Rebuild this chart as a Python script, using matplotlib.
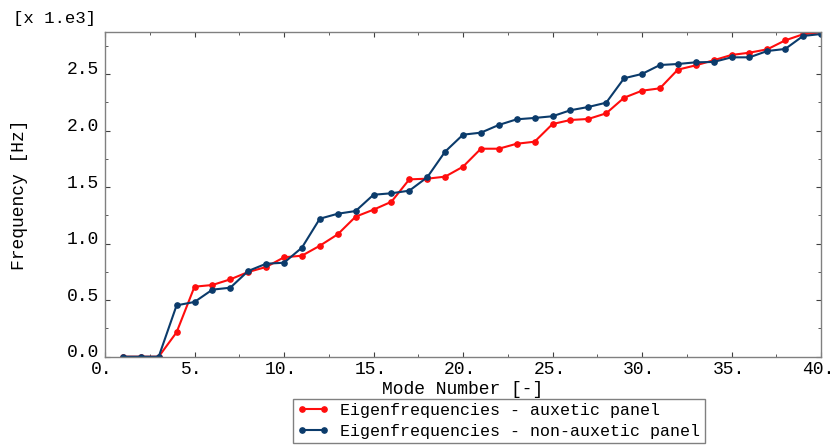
import matplotlib
matplotlib.use("Agg")
import matplotlib.pyplot as plt
import matplotlib.transforms as mtransforms
from matplotlib.ticker import MultipleLocator, FormatStrFormatter
import numpy as np

# mode numbers and eigenfrequencies (x 1e3 Hz)
modes = list(range(1, 41))
auxetic = [0.0, 0.0, 0.0, 0.216, 0.619, 0.634, 0.684, 0.749, 0.793, 0.879,
           0.893, 0.981, 1.082, 1.238, 1.300, 1.370, 1.568, 1.574, 1.592, 1.680,
           1.839, 1.839, 1.883, 1.901, 2.057, 2.093, 2.102, 2.152, 2.290, 2.352,
           2.373, 2.538, 2.576, 2.621, 2.668, 2.688, 2.718, 2.797, 2.851, 2.868]
non_auxetic = [0.0, 0.0, 0.0, 0.454, 0.484, 0.593, 0.610, 0.758, 0.822, 0.831,
               0.964, 1.220, 1.264, 1.288, 1.432, 1.445, 1.468, 1.586, 1.813, 1.963,
               1.981, 2.049, 2.099, 2.111, 2.126, 2.179, 2.208, 2.246, 2.462, 2.500,
               2.579, 2.588, 2.603, 2.606, 2.647, 2.647, 2.703, 2.721, 2.836, 2.853]

RED = "#ff0d0d"
BLUE = "#0b3b6b"
GRAY = "#808080"
FONT = "Liberation Mono"

plt.rcParams["font.family"] = FONT

fig = plt.figure(figsize=(8.34, 4.48), dpi=100)
ax = fig.add_axes([105 / 834, 1 - 356.7 / 448, 716 / 834, (356.7 - 32) / 448])

ax.plot(modes, auxetic, color=RED, linewidth=1.5, marker="o", markersize=3.8,
        label="Eigenfrequencies - auxetic panel")
ax.plot(modes, non_auxetic, color=BLUE, linewidth=1.5, marker="o", markersize=3.8,
        label="Eigenfrequencies - non-auxetic panel")

ax.set_xlim(0, 40)
ax.set_ylim(0, 2.871)
ax.xaxis.set_major_locator(MultipleLocator(5))
ax.xaxis.set_minor_locator(MultipleLocator(2.5))
ax.yaxis.set_major_locator(MultipleLocator(0.5))
ax.yaxis.set_minor_locator(MultipleLocator(0.25))
ax.xaxis.set_major_formatter(FormatStrFormatter("%d."))
ax.yaxis.set_major_formatter(FormatStrFormatter("%.1f"))

ax.tick_params(which="both", direction="in", top=True, right=True,
               color="#404040", labelsize=13)
ax.tick_params(which="major", length=3.5)
ax.tick_params(axis="x", which="major", pad=3)
ax.tick_params(axis="y", which="major", pad=4)
ax.tick_params(which="minor", length=2.5)
for sp in ax.spines.values():
    sp.set_color(GRAY)
    sp.set_linewidth(1.0)

# nudge tick labels: x a little left (keeps "40." inside), y a little up
xshift = mtransforms.ScaledTranslation(-3 / 100, 0, fig.dpi_scale_trans)
for lbl in ax.get_xticklabels():
    lbl.set_transform(lbl.get_transform() + xshift)
yshift = mtransforms.ScaledTranslation(0, 6 / 100, fig.dpi_scale_trans)
for lbl in ax.get_yticklabels():
    lbl.set_transform(lbl.get_transform() + yshift)

ax.set_xlabel("Mode Number [-]", fontsize=13, labelpad=2)
ax.set_ylabel("Frequency [Hz]", fontsize=13, labelpad=28)
fig.text(13 / 834, 1 - 19 / 448, "[x 1.e3]", fontsize=12.5, va="center", ha="left")

leg = fig.legend(loc="upper left", bbox_to_anchor=(293 / 834, 1 - 399 / 448),
                 borderaxespad=0, fancybox=False, numpoints=2, fontsize=12,
                 handlelength=1.9, handletextpad=0.7, borderpad=0.25,
                 labelspacing=0.35, edgecolor=GRAY, framealpha=1)
leg.get_frame().set_linewidth(1.0)

fig.savefig("out.png", dpi=100)
